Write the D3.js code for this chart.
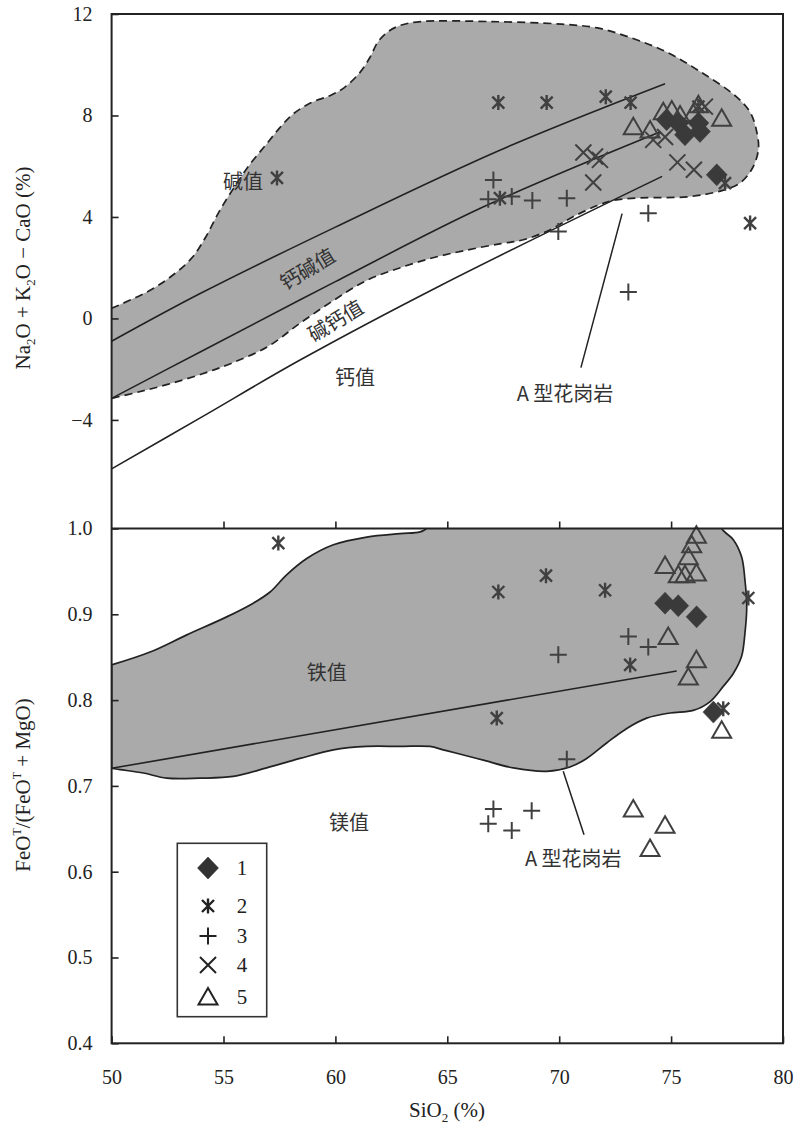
<!DOCTYPE html>
<html><head><meta charset="utf-8">
<script src="https://cdn.jsdelivr.net/npm/d3@7"></script>
<style>body{margin:0;background:#fff}</style>
</head><body>
<svg id="c" width="796" height="1124"></svg>
<script>
// ---------- data ----------
const xTickValues = [50,55,60,65,70,75,80];
const topTickValues = [-4,0,4,8,12];
const botTickValues = [0.4,0.5,0.6,0.7,0.8,0.9,1.0];
const legendLabels = ["1","2","3","4","5"];
const seriesTypes = ["diamond","asterisk","plus","cross","triangle"];

// Top panel: SiO2 vs Na2O+K2O-CaO
const top1 = [[74.8,7.83],[75.32,7.7],[75.62,7.24],[76.29,7.37],[76.22,7.7],[77.04,5.66]];
const top2 = [[57.39,5.54],[67.28,8.51],[69.44,8.51],[72.08,8.74],[73.19,8.51],[67.35,4.74],[78.53,3.76],[77.41,5.33],[76.22,8.35]];
const top3 = [[67.06,5.46],[66.83,4.7],[67.88,4.81],[68.8,4.65],[70.34,4.74],[69.96,3.43],[73.98,4.15],[73.09,1.04]];
const top4 = [[71.08,6.54],[71.6,6.38],[71.82,6.25],[71.52,5.36],[74.2,7.04],[74.73,7.15],[75.28,6.15],[76.02,5.86],[76.51,8.35]];
const top5 = [[73.31,7.56],[74.06,7.43],[77.26,7.89],[74.65,8.15],[75.03,8.22],[75.4,8.02],[75.99,8.09],[76.22,8.42]];

// Bottom panel: SiO2 vs FeOT/(FeOT+MgO)
const bot1 = [[74.73,0.913],[75.32,0.910],[76.14,0.897],[76.89,0.786]];
const bot2 = [[57.45,0.983],[67.28,0.926],[69.41,0.945],[72.05,0.928],[73.17,0.841],[67.21,0.779],[78.45,0.919],[77.33,0.790]];
const bot3 = [[69.96,0.853],[73.09,0.874],[73.98,0.862],[70.34,0.731],[67.06,0.673],[66.83,0.656],[67.88,0.648],[68.77,0.671]];
const bot5 = [[76.13,0.992],[75.92,0.981],[75.77,0.967],[74.73,0.957],[75.32,0.946],[75.62,0.946],[76.13,0.948],[74.87,0.874],[76.13,0.847],[75.77,0.827],[77.26,0.765],[73.31,0.673],[74.73,0.654],[74.06,0.627]];

// Top panel boundary curves
const maliAlkalic = [[50,-0.9],[54,1.0],[60,3.6],[67.4,6.65],[74.73,9.25]];
const maliAlkaliCalcic = [[50,-3.15],[54,-1.3],[60,1.45],[66.5,4.35],[74.5,7.35]];
const maliCalcAlkalic = [[50,-5.93],[54,-3.9],[58.4,-1.65],[64.7,1.3],[74.6,5.6]];
const topField = [[50,0.4],[51.7,1.1],[52.8,1.75],[53.6,2.4],[54.2,3.2],[54.8,4.2],[55.5,5.2],[56.2,6.1],[56.9,6.85],[57.5,7.5],[58.1,8.05],[58.9,8.5],[59.8,8.8],[60.4,9.1],[61.1,9.7],[61.55,10.3],[61.9,10.9],[62.35,11.3],[62.9,11.55],[63.8,11.7],[67.0,11.7],[70.1,11.6],[71.7,11.45],[73.25,11.05],[74.8,10.5],[76.35,9.7],[77.9,8.75],[78.55,8.1],[78.85,7.25],[78.9,6.65],[78.65,5.95],[78.1,5.35],[77.3,5.05],[75.8,4.8],[73.6,4.75],[72.4,4.65],[71.7,4.45],[70.6,4.0],[69.6,3.5],[68.4,3.1],[67.4,2.95],[65.9,2.7],[64.4,2.4],[62.9,2.0],[61.4,1.5],[59.9,0.7],[58.4,-0.2],[57.0,-1.1],[55.4,-1.75],[54.0,-2.2],[52.5,-2.6],[51.2,-2.9],[50,-3.15]];
const topLeader = [[72.81,4.13],[70.97,-1.94]];

// Bottom panel boundary curves
const ferroanLine = [[50,0.7205],[75.25,0.834]];
const botField = [[50,0.841],[51.72,0.856],[53.36,0.876],[55.14,0.897],[56.33,0.913],[57.08,0.926],[57.82,0.946],[58.72,0.965],[59.91,0.981],[61.4,0.990],[62.89,0.994],[63.78,0.996],[64.1,1.001],[64.3,1.02],[77.1,1.02],[77.26,1.0],[77.78,0.987],[78.15,0.967],[78.3,0.94],[78.38,0.909],[78.3,0.878],[78.15,0.851],[77.78,0.831],[77.33,0.816],[76.73,0.798],[75.99,0.788],[74.95,0.785],[73.91,0.779],[73.02,0.767],[72.12,0.750],[71.23,0.732],[70.48,0.722],[69.44,0.717],[67.95,0.721],[66.61,0.730],[65.42,0.738],[64.82,0.742],[64.23,0.746],[62.89,0.746],[61.4,0.746],[59.91,0.742],[58.42,0.732],[56.93,0.721],[55.44,0.711],[53.95,0.709],[52.46,0.709],[51.42,0.715],[50.38,0.719],[50,0.7205]];
const botLeader = [[70.18,0.717],[71.11,0.643]];

// Labels [text, x, y, rotation]
const topLabels = [["碱值",55.87,5.43,0],["钙碱值",58.72,1.99,-31],["碱钙值",59.98,-0.05,-31],["钙值",60.88,-2.28,0],["A 型花岗岩",70.26,-2.92,0]];
const botLabels = [["铁值",59.61,0.833],["镁值",60.61,0.658],["A 型花岗岩",70.63,0.616]];

// ---------- drawing ----------
const svg = d3.select("#c");
const L=111.6, R=783, T=14, MID=528.5, B=1043.3;
const x = d3.scaleLinear().domain([50,80]).range([L,R]);
const yT = d3.scaleLinear().domain([-8.28,12]).range([MID,T]);
const yB = d3.scaleLinear().domain([0.4,1.0]).range([B,MID]);

const ink="#222", mk="#404040", fieldFill="#aaaaaa";
const serif="'Liberation Serif','Times New Roman',serif";
const cjk="'Noto Sans CJK SC','Noto Sans CJK JP',sans-serif";

const defs = svg.append("defs");
defs.append("clipPath").attr("id","clipT").append("rect").attr("x",L).attr("y",T).attr("width",R-L).attr("height",MID-T);
defs.append("clipPath").attr("id","clipB").append("rect").attr("x",L).attr("y",MID).attr("width",R-L).attr("height",B-MID);

const curve = d3.curveCatmullRom.alpha(0.5);
function lineGen(ys){ return d3.line().x(d=>x(d[0])).y(d=>ys(d[1])).curve(curve); }

// Top panel
const gT = svg.append("g").attr("clip-path","url(#clipT)");
gT.append("path").attr("d", lineGen(yT)(topField)+"Z").attr("fill",fieldFill).attr("stroke","none");
gT.append("path").attr("d", lineGen(yT)(topField)).attr("fill","none").attr("stroke",ink).attr("stroke-width",1.7).attr("stroke-dasharray","8,5");
[maliAlkalic,maliAlkaliCalcic,maliCalcAlkalic].forEach(c=>{
  gT.append("path").attr("d", lineGen(yT)(c)).attr("fill","none").attr("stroke",ink).attr("stroke-width",1.6);
});
gT.append("path").attr("d", d3.line().x(d=>x(d[0])).y(d=>yT(d[1]))(topLeader)).attr("stroke",ink).attr("stroke-width",1.5);

// Bottom panel
const gB = svg.append("g").attr("clip-path","url(#clipB)");
gB.append("path").attr("d", lineGen(yB)(botField)+"Z").attr("fill",fieldFill).attr("stroke",ink).attr("stroke-width",1.7);
gB.append("path").attr("d", d3.line().x(d=>x(d[0])).y(d=>yB(d[1]))(ferroanLine)).attr("stroke",ink).attr("stroke-width",1.6);
gB.append("path").attr("d", d3.line().x(d=>x(d[0])).y(d=>yB(d[1]))(botLeader)).attr("stroke",ink).attr("stroke-width",1.5);

// Labels
topLabels.forEach(([t,a,b,r])=>{
  svg.append("text").attr("transform",`translate(${x(a)},${yT(b)}) rotate(${r})`)
    .attr("text-anchor","middle").attr("dominant-baseline","central")
    .attr("font-family",cjk).attr("font-size",20).attr("fill","#333").text(t);
});
botLabels.forEach(([t,a,b])=>{
  svg.append("text").attr("x",x(a)).attr("y",yB(b))
    .attr("text-anchor","middle").attr("dominant-baseline","central")
    .attr("font-family",cjk).attr("font-size",20).attr("fill","#333").text(t);
});

// Markers
const shapes = {
  diamond: {d:"M0,-11L10.5,0L0,11L-10.5,0Z", fill:true},
  asterisk:{d:"M-6,-6L6,6M-6,6L6,-6M0,-7.5L0,7.5", fill:false},
  plus:    {d:"M-8.5,0H8.5M0,-8.5V8.5", fill:false},
  cross:   {d:"M-8,-8L8,8M-8,8L8,-8", fill:false},
  triangle:{d:"M0,-9L9.5,7.5L-9.5,7.5Z", fill:false}
};
function drawPts(g, data, type, ys, color){
  const s = shapes[type];
  g.selectAll(null).data(data).enter().append("path")
    .attr("transform", d=>`translate(${x(d[0])},${ys(d[1])})`)
    .attr("d", s.d)
    .attr("fill", s.fill?color:"none")
    .attr("stroke", color)
    .attr("stroke-width", s.fill?0.5:(type==="asterisk"?2.4:2))
    .attr("stroke-linejoin","miter");
}
const pT = svg.append("g");
drawPts(pT, top2, "asterisk", yT, mk);
drawPts(pT, top3, "plus", yT, mk);
drawPts(pT, top4, "cross", yT, mk);
drawPts(pT, top5, "triangle", yT, mk);
drawPts(pT, top1, "diamond", yT, "#3a3a3a");
const pB = svg.append("g");
drawPts(pB, bot2, "asterisk", yB, mk);
drawPts(pB, bot3, "plus", yB, mk);
drawPts(pB, bot5, "triangle", yB, mk);
drawPts(pB, bot1, "diamond", yB, "#3a3a3a");

// Frame
svg.append("rect").attr("x",L).attr("y",T).attr("width",R-L).attr("height",B-T)
  .attr("fill","none").attr("stroke",ink).attr("stroke-width",2);
svg.append("line").attr("x1",L).attr("x2",R).attr("y1",MID).attr("y2",MID).attr("stroke",ink).attr("stroke-width",2);

// Axes
function styleAxis(g){
  g.select(".domain").remove();
  g.selectAll(".tick line").attr("stroke",ink).attr("stroke-width",1.6);
  g.selectAll("text").attr("font-family",serif).attr("font-size",20).attr("fill","#222");
}
const fmtTop = d=> d<0 ? "−"+Math.abs(d) : String(d);
svg.append("g").attr("transform",`translate(${L},0)`)
  .call(d3.axisLeft(yT).tickValues(topTickValues).tickSize(-7).tickPadding(19).tickFormat(fmtTop)).call(styleAxis);
svg.append("g").attr("transform",`translate(${L},0)`)
  .call(d3.axisLeft(yB).tickValues(botTickValues).tickSize(-7).tickPadding(19).tickFormat(d3.format(".1f"))).call(styleAxis);
svg.append("g").attr("transform",`translate(0,${B})`)
  .call(d3.axisBottom(x).tickValues(xTickValues).tickSize(-7).tickPadding(27).tickFormat(d3.format("d"))).call(styleAxis);
svg.append("g").attr("transform",`translate(0,${MID})`)
  .call(d3.axisBottom(x).tickValues(xTickValues.slice(1,-1)).tickSize(-7).tickFormat("")).call(styleAxis);

// Axis titles
function title(parts, tx, ty, rot){
  const t = svg.append("text").attr("transform",`translate(${tx},${ty}) rotate(${rot})`)
    .attr("text-anchor","middle").attr("font-family",serif).attr("font-size",21).attr("fill","#222");
  parts.forEach(p=>{
    const s = t.append("tspan").text(p[0]);
    if(p[1]==="sub") s.attr("font-size",13).attr("dy",5);
    else if(p[1]==="sup") s.attr("font-size",12).attr("dy",-9);
    else if(p[1]==="back") s.attr("dy",p[2]);
  });
}
title([["Na"],["2","sub"],["O + K","back",-5],["2","sub"],["O − CaO (%)","back",-5]], 30, 268, -90);
title([["FeO"],["T","sup"],["/(FeO","back",9],["T","sup"],[" + MgO)","back",9]], 30, 785, -90);
title([["SiO"],["2","sub"],[" (%)","back",-5]], 447, 1117, 0);

// Legend
const legendRowsY = [868,906,936,965,997];
const lg = svg.append("g");
lg.append("rect").attr("x",177.3).attr("y",843.3).attr("width",89.4).attr("height",173.4)
  .attr("fill","#fff").attr("stroke","#333").attr("stroke-width",1.6);
seriesTypes.forEach((tp,i)=>{
  const s = shapes[tp];
  lg.append("path").attr("transform",`translate(208,${legendRowsY[i]})`).attr("d",s.d)
    .attr("fill",s.fill?"#333":"none").attr("stroke","#222").attr("stroke-width",s.fill?0.5:(tp==="asterisk"?2.4:2));
  lg.append("text").attr("x",242).attr("y",legendRowsY[i]).attr("dominant-baseline","central")
    .attr("text-anchor","middle").attr("font-family",serif).attr("font-size",21).attr("fill","#222").text(legendLabels[i]);
});
</script>
</body></html>
